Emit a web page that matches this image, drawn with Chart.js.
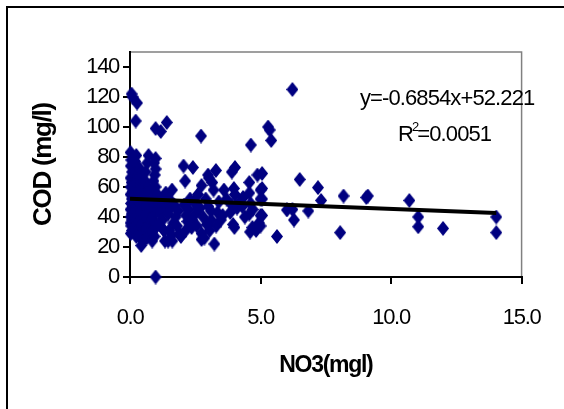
<!DOCTYPE html>
<html>
<head>
<meta charset="UTF-8">
<title>COD vs NO3</title>
<script src="https://cdn.jsdelivr.net/npm/chart.js@4/dist/chart.umd.min.js"></script>
<style>
  html, body { margin: 0; padding: 0; background: #fff; overflow: hidden; }
  #wrap { position: relative; width: 564px; height: 409px; }
  /* outer chart frame, only top and left edges show in the picture */
  #frame { position: absolute; left: 6px; top: 6px; width: 700px; height: 600px; border: 2px solid #000; pointer-events: none; }
</style>
</head>
<body>
<div id="wrap">
  <canvas id="codChart" width="564" height="409"></canvas>
  <div id="frame"></div>
</div>
<script>
// NO3 (mg/l) readings, x values
const no3 = [
  0.02,0.05,0.03,0.08,0.02,0.06,0.03,0.1,0.02,0.07,0.04,0.1,0.02,0.06,0.03,0.09,0.02,0.05,0.08,0.03,0.06,0.1,
  0.24,0.2,0.27,0.18,0.3,0.22,0.15,0.28,0.2,0.25,0.17,0.3,0.22,0.16,0.28,0.2,0.26,0.18,0.3,0.24,0.27,0.22,
  0.38,0.45,0.4,0.48,0.36,0.44,0.5,0.38,0.46,0.4,0.5,0.35,0.44,0.48,0.38,0.43,0.5,
  0.71,0.66,0.6,0.58,0.7,0.62,0.56,0.68,0.6,0.74,0.58,0.66,0.72,0.6,0.7,0.64,
  0.98,0.92,0.98,0.95,0.9,0.98,0.85,0.93,0.82,0.97,0.88,0.95,0.84,0.92,0.98,0.86,0.94,0.85,0.98,0.98,
  1.18,1.41,1.05,1.1,1.2,1.15,1.25,1.08,1.3,1.37,1.34,1.46,1.4,1.35,1.28,
  1.61,1.5,1.56,1.46,1.66,1.5,1.6,1.7,1.75,1.85,1.9,1.95,1.8,1.62,
  2.05,2.41,2.11,2.07,2.15,2.2,2.32,2.13,2.38,2.25,2.36,2.5,2.56,2.45,2.6,2.68,2.3,2.74,2.72,2.74,2.74,2.6,
  2.85,2.99,3.02,3.29,3.11,3.05,3.23,3.35,3.15,3.2,2.9,3.0,3.1,2.8,2.95,3.4,3.48,3.3,3.6,3.55,
  3.9,4.02,3.98,4.02,3.84,3.95,4.0,3.9,4.1,4.33,4.2,4.57,4.63,4.88,4.57,4.62,4.57,4.69,4.6,4.83,4.94,4.7,
  5.0,5.0,5.0,5.06,5.06,5.06,5.06,5.0,4.4,4.3,3.7,
  5.29,5.35,5.41,6.22,6.5,7.2,7.32,8.18,8.05,5.63,6.01,6.22,6.28,6.83,9.11,9.05,10.7,11.04,11.04,11.99,14.03,14.03
];
// COD (mg/l) readings, y values
const cod = [
  83,78,74,70,66,63,60,57,55,52,49,47,45,42,40,38,36,34,31,29,122,120,
  81,77,73,69,67,64,61,59,56,53,50,48,45,43,41,38,35,33,30,27,116,104,
  72,69,65,62,58,55,52,49,46,43,40,37,34,30,27,21,24,
  81,76,70,64,60,56,53,50,47,44,41,38,35,32,29,26,
  79,76,72,68,64,60,57,54,51,48,45,42,39,36,33,30,27,24,99,0,
  97,103,55,50,46,42,38,35,31,56,24,24,44,48,53,
  58,52,46,42,36,31,28,48,40,44,29,27,34,24,
  74,73,64,48,41,37,36,31,38,45,33,42,34,50,46,46,52,61,94,25,29,55,
  26,68,66,71,38,31,22,43,63,58,52,47,44,40,35,50,38,34,58,41,
  70,73,59,55,43,35,33,48,46,53,50,63,88,68,56,49,42,33,30,31,36,45,
  58,52,41,69,59,52,41,34,40,47,52,
  100,98,91,125,65,59.6,51,54,29.6,27,44.7,45,38,44,54,53,51,40,33.5,32.4,40,29.6
];

// linear trendline as printed on the chart
const slope = -0.6854;
const intercept = 52.221;
const trendX = [0, 14.03];
const eqText = 'y=-0.6854x+52.221';
const r2Value = '=0.0051';

const xTitle = 'NO3(mgl)';
const yTitle = 'COD (mg/l)';

const FONT = '"Liberation Sans", Arial, sans-serif';

// taller-than-wide diamond like the Excel marker
function diamond(w, h, color) {
  const c = document.createElement('canvas');
  c.width = w; c.height = h;
  const g = c.getContext('2d');
  g.fillStyle = color;
  g.beginPath();
  g.moveTo(w / 2, 0); g.lineTo(w, h / 2); g.lineTo(w / 2, h); g.lineTo(0, h / 2);
  g.closePath();
  g.fill();
  return c;
}

const points = no3.map((x, i) => ({ x: x, y: cod[i] }));
const trend = trendX.map(x => ({ x: x, y: intercept + slope * x }));

const excelLook = {
  id: 'excelLook',
  beforeDraw(chart) {
    const ctx = chart.ctx, a = chart.chartArea;
    ctx.save();
    ctx.strokeStyle = '#808080';
    ctx.lineWidth = 1.5;
    ctx.strokeRect(a.left, a.top, a.right - a.left, a.bottom - a.top);
    ctx.restore();
    ctx.letterSpacing = '-1.3px'; // squeezed Excel text
  },
  afterDraw(chart) {
    const ctx = chart.ctx;
    ctx.save();
    ctx.fillStyle = '#000';
    ctx.textAlign = 'left';
    ctx.textBaseline = 'alphabetic';
    ctx.letterSpacing = '-0.9px';
    ctx.font = '22px ' + FONT;
    ctx.fillText(eqText, 360, 105);
    let x = 398;
    ctx.fillText('R', x, 141);
    x += ctx.measureText('R').width;
    ctx.font = '13px ' + FONT;
    ctx.fillText('2', x - 1, 131);
    x += ctx.measureText('2').width - 2;
    ctx.font = '22px ' + FONT;
    ctx.fillText(r2Value, x, 141);
    ctx.restore();
  }
};

new Chart(document.getElementById('codChart'), {
  type: 'scatter',
  data: {
    datasets: [
      {
        label: 'Trend',
        data: trend,
        showLine: true,
        borderColor: '#000',
        borderWidth: 4,
        pointRadius: 0,
        fill: false,
        order: 0
      },
      {
        label: 'COD',
        data: points,
        pointStyle: diamond(12, 15, '#000080'),
        pointRadius: 6,
        clip: false,
        order: 1
      }
    ]
  },
  options: {
    responsive: false,
    animation: false,
    layout: { padding: { left: 0, top: 52, right: 24, bottom: 0 } },
    plugins: { legend: { display: false }, tooltip: { enabled: false } },
    scales: {
      x: {
        type: 'linear',
        min: 0,
        max: 15,
        afterFit(s) { s.height = 132; },
        ticks: {
          stepSize: 5,
          color: '#000',
          font: { family: FONT, size: 22 },
          padding: 21,
          maxRotation: 0,
          callback: v => v.toFixed(1)
        },
        grid: { drawOnChartArea: false, drawTicks: true, tickLength: 7, color: '#000', lineWidth: 2 },
        border: { color: '#000', width: 2 },
        title: {
          display: true,
          text: xTitle,
          color: '#000',
          font: { family: FONT, size: 23, weight: 'bold' },
          padding: { top: 0, bottom: 30 }
        }
      },
      y: {
        type: 'linear',
        min: 0,
        max: 150,
        afterFit(s) { s.width = 130; },
        ticks: {
          stepSize: 20,
          includeBounds: false,
          color: '#000',
          font: { family: FONT, size: 22 },
          padding: 4
        },
        grid: { drawOnChartArea: false, drawTicks: true, tickLength: 7, color: '#000', lineWidth: 2 },
        border: { color: '#000', width: 2 },
        title: {
          display: true,
          text: yTitle,
          color: '#000',
          font: { family: FONT, size: 26, weight: 'bold' },
          padding: { top: 28, bottom: 0 }
        }
      }
    }
  },
  plugins: [excelLook]
});
</script>
</body>
</html>
